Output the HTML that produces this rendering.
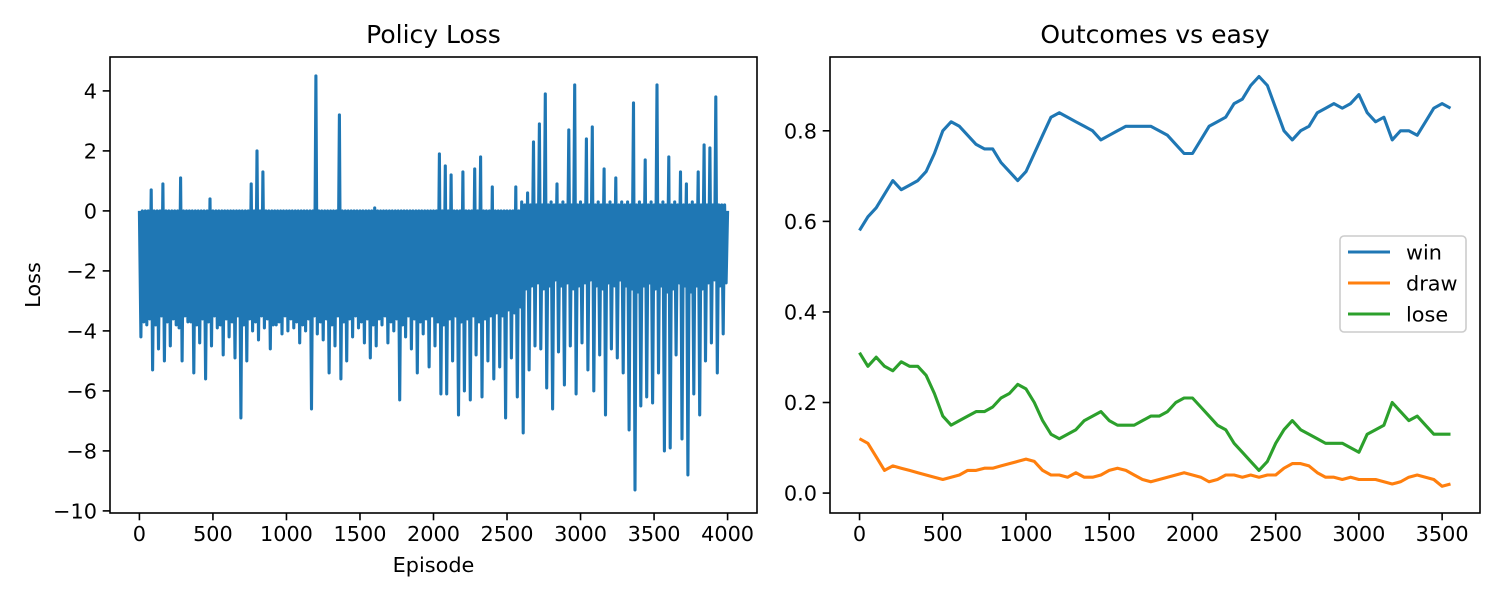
<!DOCTYPE html>
<html><head><meta charset="utf-8"><style>
html,body{margin:0;padding:0;background:#fff}
svg{display:block}
text{font-family:"DejaVu Sans","Liberation Sans",sans-serif;fill:#000}
</style></head><body>
<svg id="fig" width="1500" height="600" viewBox="0 0 1500 600"></svg>
<script>
// ---- Left chart data (bins of 40 episodes) ----
const lossBinStart = 40;
const lossHighs = [0,0,0.7,0,0.9,0,0,1.1,0,0,0,0,0.4,0,0,0,0,0,0,0.9,2.0,1.3,0,0,0,0,0,0,0,0,4.5,0,0,0,3.2,0,0,0,0,0,0.1,0,0,0,0,0,0,0,0,0,0,1.9,1.5,1.2,0,1.3,0,1.4,1.8,0,0.8,0,0,0,0.8,0.3,0.6,2.3,2.9,3.9,0.3,0.9,0.3,2.7,4.2,0.3,2.4,2.8,0.3,1.4,0.3,1.1,0.3,0.3,3.6,0.3,1.7,0.3,4.2,0.3,1.8,0.3,1.3,0.9,0.3,1.3,2.2,2.1,3.8,0.2];
const lossLows = [-4.2,-3.8,-5.3,-4.6,-5.0,-4.5,-3.8,-5.0,-3.7,-5.4,-4.4,-5.6,-4.5,-3.9,-4.8,-4.2,-4.9,-6.9,-5.0,-4.0,-4.3,-3.9,-4.6,-3.8,-4.1,-4.0,-3.9,-4.4,-4.0,-6.6,-4.1,-4.3,-5.4,-4.5,-5.6,-5.0,-4.2,-3.9,-4.4,-4.9,-4.5,-3.8,-4.4,-4.0,-6.3,-4.2,-4.6,-5.4,-4.1,-5.2,-4.5,-6.1,-6.1,-5.0,-6.8,-6.0,-6.3,-4.8,-6.2,-5.0,-5.6,-5.2,-6.9,-4.9,-6.2,-7.4,-5.3,-4.5,-4.6,-5.9,-6.6,-4.7,-5.8,-4.5,-6.1,-4.4,-5.3,-6.0,-4.8,-6.8,-4.6,-4.9,-5.4,-7.3,-9.3,-6.5,-6.2,-6.4,-5.4,-8.0,-7.9,-4.8,-7.6,-8.8,-6.1,-6.8,-5.0,-4.4,-5.4,-4.1];
const lossHighs2 = [0,0,0,0,0,0,0,0,0,0,0,0,0,0,0,0,0,0,0,0,0,0,0,0,0,0,0,0,0,0,0,0,0,0,0,0,0,0,0,0,0,0,0,0,0,0,0,0,0,0,0,0,0,0,0,0,0,0,0,0,0,0,0,0,0,0.2,0.2,0.2,0.2,0.2,0.2,0.2,0.2,0.2,0.2,0.2,0.2,0.2,0.2,0.2,0.2,0.2,0.2,0.2,0.2,0.2,0.2,0.2,0.2,0.2,0.2,0.2,0.2,0.2,0.2,0.2,0.2,0.2,0.2,0.2];
const lossTyp = [-3.7,-3.6,-3.8,-3.5,-3.7,-3.6,-3.9,-3.5,-3.7,-3.8,-3.6,-3.7,-3.5,-3.8,-3.6,-3.7,-3.5,-3.8,-3.6,-3.7,-3.5,-3.6,-3.8,-3.7,-3.5,-3.6,-3.7,-3.8,-3.6,-3.5,-3.7,-3.6,-3.8,-3.5,-3.7,-3.6,-3.5,-3.7,-3.6,-3.8,-3.6,-3.5,-3.7,-3.6,-3.8,-3.5,-3.6,-3.7,-3.6,-3.5,-3.7,-3.8,-3.6,-3.5,-3.7,-3.6,-3.5,-3.7,-3.6,-3.5,-3.4,-3.5,-3.3,-3.4,-3.2,-2.6,-2.5,-2.4,-2.6,-2.5,-2.3,-2.5,-2.4,-2.6,-2.5,-2.4,-2.3,-2.5,-2.6,-2.4,-2.5,-2.3,-2.5,-2.6,-2.7,-2.5,-2.4,-2.6,-2.5,-2.7,-2.6,-2.4,-2.5,-2.7,-2.5,-2.6,-2.4,-2.3,-2.5,-2.4];
const lossXTicks = [0,500,1000,1500,2000,2500,3000,3500,4000];
const lossYTicks = [-10,-8,-6,-4,-2,0,2,4];

// ---- Right chart data (every 50 episodes) ----
const outStep = 50;
const winRate = [0.58,0.61,0.63,0.66,0.69,0.67,0.68,0.69,0.71,0.75,0.80,0.82,0.81,0.79,0.77,0.76,0.76,0.73,0.71,0.69,0.71,0.75,0.79,0.83,0.84,0.83,0.82,0.81,0.80,0.78,0.79,0.80,0.81,0.81,0.81,0.81,0.80,0.79,0.77,0.75,0.75,0.78,0.81,0.82,0.83,0.86,0.87,0.90,0.92,0.90,0.85,0.80,0.78,0.80,0.81,0.84,0.85,0.86,0.85,0.86,0.88,0.84,0.82,0.83,0.78,0.80,0.80,0.79,0.82,0.85,0.86,0.85];
const drawRate = [0.12,0.11,0.08,0.05,0.06,0.055,0.05,0.045,0.04,0.035,0.03,0.035,0.04,0.05,0.05,0.055,0.055,0.06,0.065,0.07,0.075,0.07,0.05,0.04,0.04,0.035,0.045,0.035,0.035,0.04,0.05,0.055,0.05,0.04,0.03,0.025,0.03,0.035,0.04,0.045,0.04,0.035,0.025,0.03,0.04,0.04,0.035,0.04,0.035,0.04,0.04,0.055,0.065,0.065,0.06,0.045,0.035,0.035,0.03,0.035,0.03,0.03,0.03,0.025,0.02,0.025,0.035,0.04,0.035,0.03,0.015,0.02];
const loseRate = [0.31,0.28,0.30,0.28,0.27,0.29,0.28,0.28,0.26,0.22,0.17,0.15,0.16,0.17,0.18,0.18,0.19,0.21,0.22,0.24,0.23,0.20,0.16,0.13,0.12,0.13,0.14,0.16,0.17,0.18,0.16,0.15,0.15,0.15,0.16,0.17,0.17,0.18,0.20,0.21,0.21,0.19,0.17,0.15,0.14,0.11,0.09,0.07,0.05,0.07,0.11,0.14,0.16,0.14,0.13,0.12,0.11,0.11,0.11,0.10,0.09,0.13,0.14,0.15,0.20,0.18,0.16,0.17,0.15,0.13,0.13,0.13];
const outXTicks = [0,500,1000,1500,2000,2500,3000,3500];
const outYTicks = [0.0,0.2,0.4,0.6,0.8];
const outTickLabels = ["0.0","0.2","0.4","0.6","0.8"];

const NS="http://www.w3.org/2000/svg";
const svg=document.getElementById('fig');
function mk(tag,attrs,parent){const e=document.createElementNS(NS,tag);for(const k in attrs)e.setAttribute(k,attrs[k]);(parent||svg).appendChild(e);return e;}

const L={x0:110,x1:757,y0:57,y1:513,xmin:-200,xmax:4200,ymin:-10.07,ymax:5.13};
const R={x0:830,x1:1480,y0:57,y1:513,xmin:-177.5,xmax:3727.5,ymin:-0.044,ymax:0.963};
function sx(a,v){return a.x0+(v-a.xmin)/(a.xmax-a.xmin)*(a.x1-a.x0);}
function sy(a,v){return a.y1-(v-a.ymin)/(a.ymax-a.ymin)*(a.y1-a.y0);}

function axes(a,name,xt,yt,ylab){
  const g=mk('g',{});
  
  
  xt.forEach(v=>{const x=sx(a,v);
    const t=mk('line',{x1:x,x2:x,y1:a.y1,y2:a.y1+7.3,stroke:'#000','stroke-width':1.6},g);
    
    const tx=mk('text',{x:x,y:a.y1+28,'text-anchor':'middle','font-size':'20.8px'},g);tx.textContent=String(v);
    });
  yt.forEach((v,i)=>{const y=sy(a,v);
    const t=mk('line',{x1:a.x0-7.3,x2:a.x0,y1:y,y2:y,stroke:'#000','stroke-width':1.6},g);
    
    const tx=mk('text',{x:a.x0-13,y:y+7.5,'text-anchor':'end','font-size':'20.8px'},g);
    tx.textContent=ylab?ylab[i]:String(v).replace('-','\u2212');
    });
  return g;
}
function frame(a){const r=mk('rect',{x:a.x0,y:a.y0,width:a.x1-a.x0,height:a.y1-a.y0,fill:'none',stroke:'#000','stroke-width':1.6});
  }

axes(L,'loss',lossXTicks,lossYTicks,null);
let pts=[];
for(let i=0;i<lossLows.length;i++){const b=i*lossBinStart;
  pts.push([b,lossHighs[i]],[b+10,lossLows[i]],[b+20,lossHighs2[i]],[b+30,lossTyp[i]]);}
pts.push([4000,0]);
const lp=mk('polyline',{points:pts.map(p=>sx(L,p[0]).toFixed(1)+','+sy(L,p[1]).toFixed(1)).join(' '),fill:'none',stroke:'#1f77b4','stroke-width':3.1,'stroke-linejoin':'round'});

frame(L);
let t=mk('text',{x:433.5,y:43,'text-anchor':'middle','font-size':'25px'});t.textContent='Policy Loss';

t=mk('text',{x:433.5,y:572,'text-anchor':'middle','font-size':'20.8px'});t.textContent='Episode';

t=mk('text',{x:0,y:0,'text-anchor':'middle','font-size':'20.8px',transform:'translate(40,285) rotate(-90)'});t.textContent='Loss';


axes(R,'outcomes',outXTicks,outYTicks,outTickLabels);
function series(arr,color,name){
  const p=mk('polyline',{points:arr.map((v,i)=>sx(R,i*outStep).toFixed(1)+','+sy(R,v).toFixed(1)).join(' '),fill:'none',stroke:color,'stroke-width':3.1,'stroke-linejoin':'round'});
  }
series(winRate,'#1f77b4','win-line');
series(drawRate,'#ff7f0e','draw-line');
series(loseRate,'#2ca02c','lose-line');
frame(R);
t=mk('text',{x:1155,y:43,'text-anchor':'middle','font-size':'25px'});t.textContent='Outcomes vs easy';


const lg=mk('g',{});

const lr=mk('rect',{x:1340,y:236,width:126,height:96,rx:4,fill:'#fff','fill-opacity':0.8,stroke:'#ccc','stroke-width':1.6},lg);

[['win','#1f77b4',252],['draw','#ff7f0e',283],['lose','#2ca02c',314]].forEach(e=>{
  const ln=mk('line',{x1:1348,x2:1390,y1:e[2],y2:e[2],stroke:e[1],'stroke-width':3.1},lg);
  
  const tx=mk('text',{x:1406,y:e[2]+7.5,'font-size':'20.8px'},lg);tx.textContent=e[0];
  
});
</script>
</body></html>
